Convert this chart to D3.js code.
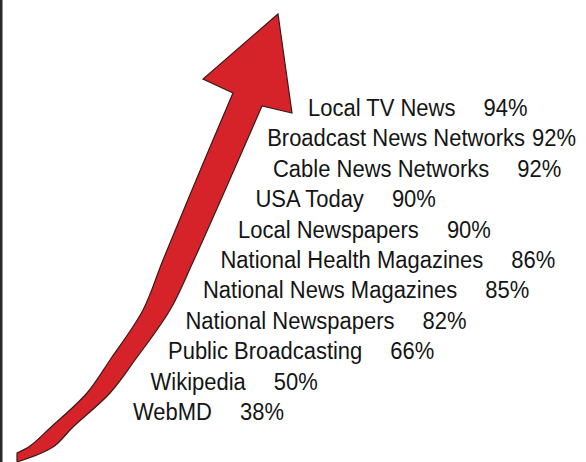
<!DOCTYPE html>
<html>
<head>
<meta charset="utf-8">
<script src="https://cdn.jsdelivr.net/npm/d3@7"></script>
<style>
  html, body { margin: 0; padding: 0; background: #fff; }
  svg { display: block; }
  .lbl { font-family: "Liberation Sans", Arial, sans-serif; font-size: 22px; fill: #151515; }
</style>
</head>
<body>
<svg id="chart"></svg>
<script>
// trust in health information, by source
const sources = [
  "Local TV News", "Broadcast News Networks", "Cable News Networks", "USA Today",
  "Local Newspapers", "National Health Magazines", "National News Magazines",
  "National Newspapers", "Public Broadcasting", "Wikipedia", "WebMD"
];
const trustPct = [94, 92, 92, 90, 90, 86, 85, 82, 66, 50, 38];

let width = 586, height = 462;
let gap = 28, minGap = 7, rightMargin = 10;
let stretch = 1.12; // glyphs in the original are a bit taller

// arrow outline (decoration only)
const arrowLeft = [[17, 453], [30, 446], [50, 428], [87, 393], [110, 360], [143, 310], [163, 260], [197, 178], [233, 93]];
const arrowHead = [[203, 79], [278, 14], [292, 113], [262, 106]];
const arrowRight = [[262, 106], [193, 262], [170, 310], [135, 360], [110, 393], [73, 427], [53, 447], [17, 462]];

const svg = d3.select("#chart").attr("width", width).attr("height", height);

// left frame line
svg.append("rect").attr("x", 0).attr("y", 0).attr("width", 2.5).attr("height", height).style("fill", "#2a2a2a");

const edge = d3.line().curve(d3.curveCatmullRom);
let d = edge(arrowLeft)
  + arrowHead.map(p => "L" + p[0] + "," + p[1]).join("")
  + edge(arrowRight).replace(/^M/, "L") + "Z";

svg.append("path")
  .attr("d", d)
  .style("fill", "#d6232a")
  .style("stroke", "#3a1a1a")
  .attr("stroke-width", 1.2)
  .attr("stroke-linejoin", "miter");

// rows
const y = d3.scalePoint().domain(sources).range([116, 420]);
const x = d3.scaleLinear().domain([0, sources.length - 1]).range([308, 133]);

const rows = svg.append("g")
  .selectAll("g")
  .data(sources)
  .enter()
  .append("g")
  .attr("transform", s => `translate(0, ${y(s)}) scale(1, ${stretch})`);

rows.append("text")
  .attr("class", "lbl name")
  .text(s => s);

rows.append("text")
  .attr("class", "lbl pct")
  .text((s, i) => trustPct[i] + "%");

// place label and value so the whole line stays inside the frame
rows.each(function (s, i) {
  let row = d3.select(this);
  let name = row.select(".name");
  let pct = row.select(".pct");
  let nw = name.node().getComputedTextLength();
  let pw = pct.node().getComputedTextLength();
  let lx = Math.min(x(i), width - rightMargin - pw - minGap - nw);
  let px = Math.min(lx + nw + gap, width - rightMargin - pw);
  name.attr("x", lx);
  pct.attr("x", px);
});
</script>
</body>
</html>
